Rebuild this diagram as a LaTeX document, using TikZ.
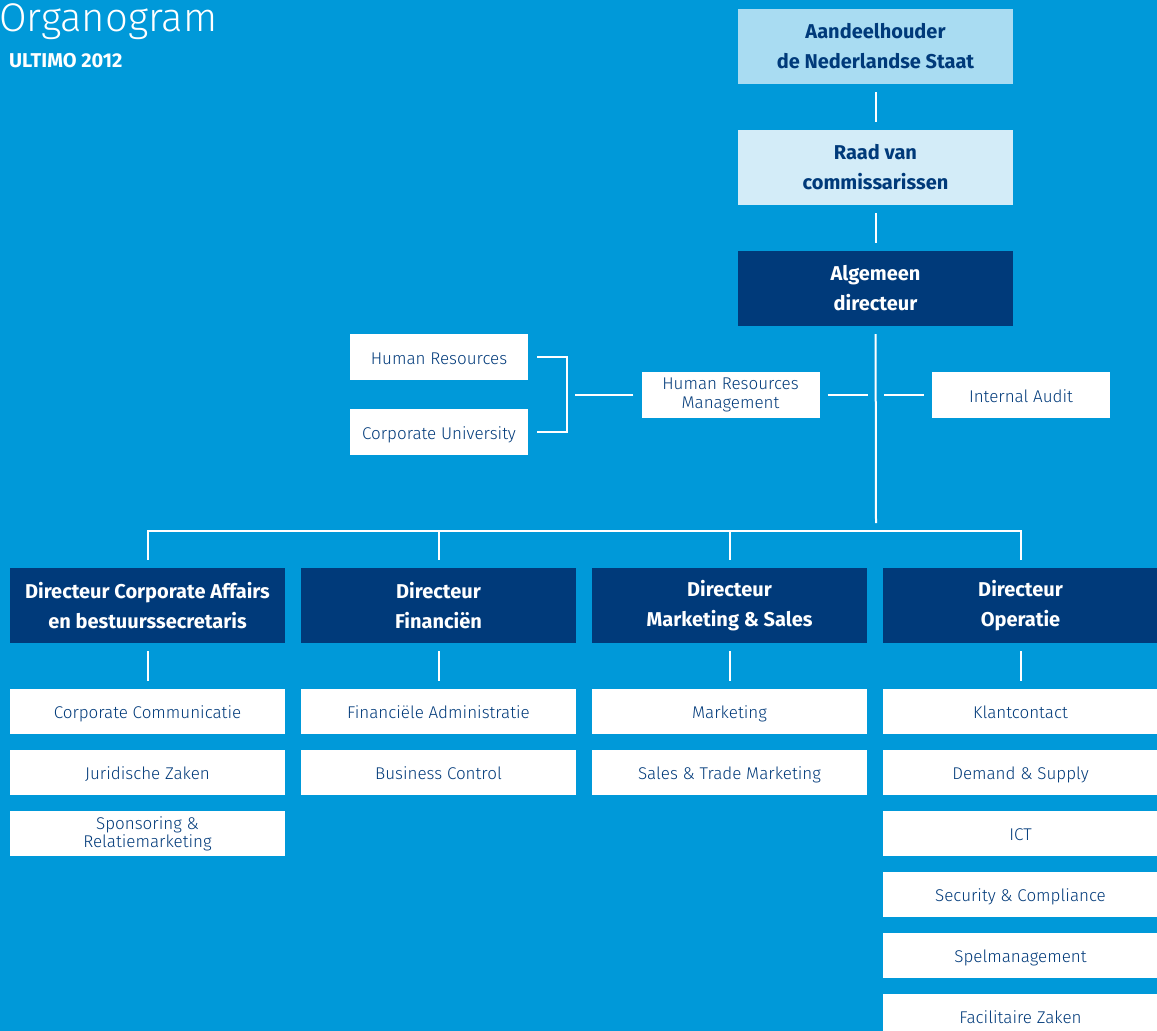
\documentclass[tikz,border=0pt]{standalone}
\usepackage{fontspec}
\setmainfont{Fira Sans}
\newfontfamily\lightfont{Fira Sans Light}
\usetikzlibrary{positioning}
\definecolor{bgblue}{RGB}{0,153,217}
\definecolor{navy}{RGB}{0,58,122}
\definecolor{lightA}{RGB}{169,220,242}
\definecolor{lightB}{RGB}{211,236,248}

\begin{document}
\begin{tikzpicture}[x=1pt,y=-1pt,
  conn/.style={white,line width=2pt,shorten <=8pt,shorten >=8pt},
  topbox/.style={minimum width=275pt,minimum height=75pt,inner sep=0pt,align=center,font=\bfseries\fontsize{20}{30}\selectfont},
  dirbox/.style={topbox,fill=navy,text=white},
  unit/.style={fill=white,text=navy,minimum width=275pt,minimum height=45pt,inner sep=0pt,text height=16pt,text depth=2pt,align=center,font=\lightfont\fontsize{17}{18.5}\selectfont},
  twoline/.style={text height=,text depth=},
  staff/.style={unit,minimum width=178pt,minimum height=46pt},
  node distance=15.5pt]

\useasboundingbox (0,0) rectangle (1157,1031);
\fill[bgblue] (0,0) rectangle (1157,1031);

% titel
\node[anchor=base west,inner sep=0pt,text=white,font=\lightfont\fontsize{40}{40}\selectfont] (title) at (-1,31) {Organogram};
\node[anchor=base west,inner sep=0pt,text=white,font=\bfseries\fontsize{20}{20}\selectfont] (year) at (9,67) {ULTIMO 2012};

% top
\node[topbox,fill=lightA,text=navy] (share) at (875.5,46.5) {Aandeelhouder\\de Nederlandse Staat};
\node[topbox,fill=lightB,text=navy] (board) at (875.5,167.5) {Raad van\\commissarissen};
\node[dirbox] (ceo) at (875.5,288.5) {Algemeen\\directeur};

% staf
\node[staff] (hr) at (439,357) {Human Resources};
\node[staff] (cu) at (439,432) {Corporate University};
\node[staff,twoline] (hrm) at (730.5,395) {Human Resources\\Management};
\node[staff] (audit) at (1021,395) {Internal Audit};

% directie
\node[dirbox] (dca) at (147.5,605.5) {Directeur Corporate Affairs\\en bestuurssecretaris};
\node[dirbox] (dfin) at (438.5,605.5) {Directeur\\Financiën};
\node[dirbox] (dms) at (729.5,605.5) {Directeur\\Marketing \& Sales};
\node[dirbox] (dop) at (1020.5,605.5) {Directeur\\Operatie};

% afdelingen
\node[unit,below=46pt of dca] (cc) {Corporate Communicatie};
\node[unit,below=of cc] (jur) {Juridische Zaken};
\node[unit,twoline,below=of jur] (spons) {Sponsoring \&\\Relatiemarketing};

\node[unit,below=46pt of dfin] (fa) {Financiële Administratie};
\node[unit,below=of fa] (bc) {Business Control};

\node[unit,below=46pt of dms] (mkt) {Marketing};
\node[unit,below=of mkt] (stm) {Sales \& Trade Marketing};

\node[unit,below=46pt of dop] (kc) {Klantcontact};
\node[unit,below=of kc] (ds) {Demand \& Supply};
\node[unit,below=of ds] (ict) {ICT};
\node[unit,below=of ict] (sec) {Security \& Compliance};
\node[unit,below=of sec] (spel) {Spelmanagement};
\node[unit,below=of spel] (fz) {Facilitaire Zaken};

% lijnen
\coordinate (hub) at (876,523);
\coordinate (spine) at (876,395);
\coordinate (brk) at (567,395);
\coordinate (bar) at (0,531);

\draw[conn] (share) -- (board);
\draw[conn] (board) -- (ceo);
\draw[conn,shorten >=0pt] (ceo) -- (hub);

\draw[conn,shorten <=9pt,shorten >=9pt] (hr.east) -- ++(39,0) |- (cu.east);
\draw[conn] (hrm) -- (brk);
\draw[conn] (hrm) -- (spine);
\draw[conn] (audit) -- (spine);

\draw[conn] (dca.north) |- (bar -| dop.north) -- (dop.north);
\draw[conn,shorten <=0pt] (bar -| dfin.north) -- (dfin.north);
\draw[conn,shorten <=0pt] (bar -| dms.north) -- (dms.north);

\draw[conn] (dca) -- (cc);
\draw[conn] (dfin) -- (fa);
\draw[conn] (dms) -- (mkt);
\draw[conn] (dop) -- (kc);
\end{tikzpicture}
\end{document}
